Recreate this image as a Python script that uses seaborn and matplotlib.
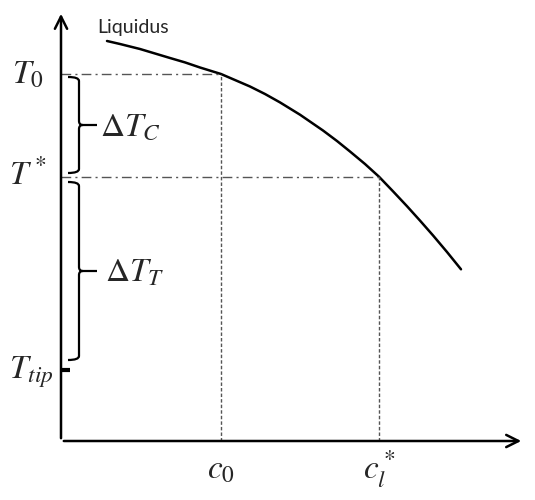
import matplotlib
matplotlib.use('Agg')
import matplotlib.pyplot as plt
from matplotlib.path import Path
from matplotlib.patches import PathPatch
import pandas as pd
import seaborn as sns

# liquidus curve (composition, temperature), arbitrary units
c_liq = [46, 59, 79, 109, 124, 139, 160, 189, 204, 219, 239, 262, 276, 289,
         304, 318, 332, 346, 359, 372, 386, 400]
T_liq = [400, 397, 392, 383, 378.6, 373.5, 367, 354.5, 347, 338.6, 326.3, 310.5, 300, 289.5,
         277, 264.3, 249.7, 234.8, 220.4, 205.6, 189, 171.7]

c0 = 160
cl_star = 318
T0 = 367
T_star = 264
T_tip = 71

GREY = '#555555'


def brace(ax, x, top, bot, w=11, tick=18, r=4):
    mid = (top + bot) / 2
    verts = [
        (x - w, top), (x, top), (x, top - r),
        (x, mid + r), (x, mid), (x + r, mid),
        (x + tick, mid),
        (x + r, mid), (x, mid), (x, mid - r),
        (x, bot + r), (x, bot), (x - w, bot),
    ]
    codes = [
        Path.MOVETO, Path.CURVE3, Path.CURVE3,
        Path.LINETO, Path.CURVE3, Path.CURVE3,
        Path.LINETO,
        Path.MOVETO, Path.CURVE3, Path.CURVE3,
        Path.LINETO, Path.CURVE3, Path.CURVE3,
    ]
    ax.add_patch(PathPatch(Path(verts, codes), facecolor='none', edgecolor='black', lw=1.6))


def main():
    sns.set_style('white')
    plt.rcParams['mathtext.fontset'] = 'stix'

    fig = plt.figure(figsize=(5.35, 5.0), dpi=100)
    ax = fig.add_axes([0, 0, 1, 1])
    ax.set_xlim(-61, 474)
    ax.set_ylim(-59, 441)
    ax.axis('off')

    df = pd.DataFrame({'c': c_liq, 'T': T_liq})
    sns.lineplot(data=df, x='c', y='T', sort=False, color='black', lw=1.8, ax=ax)

    # axes with arrows
    ax.annotate('', xy=(0, 430), xytext=(0, 0),
                arrowprops=dict(arrowstyle='->', lw=1.8, color='black', mutation_scale=22))
    ax.annotate('', xy=(463, 0), xytext=(0, 0),
                arrowprops=dict(arrowstyle='->', lw=1.8, color='black', mutation_scale=22))

    # guide lines
    dashdot = (0, (7, 3, 1.5, 3))
    ax.plot([0, c0], [T0, T0], color=GREY, lw=1, linestyle=dashdot)
    ax.plot([0, cl_star], [T_star, T_star], color=GREY, lw=1, linestyle=dashdot)
    ax.plot([c0, c0], [0, T0], color=GREY, lw=1, linestyle=(0, (2.5, 1.5)))
    ax.plot([cl_star, cl_star], [0, T_star], color=GREY, lw=1, linestyle=(0, (2.5, 1.5)))

    # T_tip tick
    ax.plot([0, 9], [T_tip, T_tip], color='black', lw=3, solid_capstyle='butt')

    # braces
    brace(ax, 18, T0 - 3, T_star + 4)
    brace(ax, 18, T_star - 5, T_tip + 10)

    fs = 24
    ax.text(-33, T0, r'$T_0$', fontsize=fs, ha='center', va='center')
    ax.text(-33, T_star + 2, r'$T^*$', fontsize=fs, ha='center', va='center')
    ax.text(-30, T_tip - 2, r'$T_{tip}$', fontsize=fs, ha='center', va='center')
    ax.text(39, (T0 + T_star) / 2, r'$\Delta T_C$', fontsize=fs, ha='left', va='center')
    ax.text(44, (T_star + T_tip) / 2 + 2, r'$\Delta T_T$', fontsize=fs, ha='left', va='center')
    ax.text(c0, -28, r'$c_0$', fontsize=fs, ha='center', va='center')
    ax.text(cl_star, -28, r'$c_l^*$', fontsize=fs, ha='center', va='center')
    ax.text(72, 413, 'Liquidus', fontsize=14, family='Lato', ha='center', va='center')

    fig.savefig('out.png', dpi=100)
    plt.close(fig)


if __name__ == '__main__':
    main()
